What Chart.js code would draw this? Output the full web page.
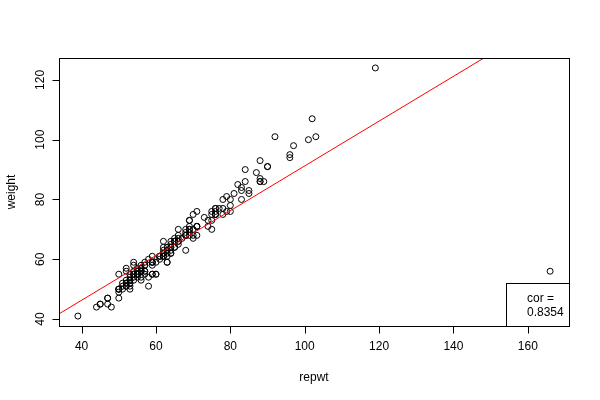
<!DOCTYPE html>
<html><head><meta charset="utf-8">
<script src="https://cdn.jsdelivr.net/npm/chart.js@4/dist/chart.umd.min.js"></script>
<style>html,body{margin:0;padding:0;background:#fff;}canvas{display:block;}</style>
</head><body>
<canvas id="c" width="600" height="400"></canvas>
<script>
// x values (axis titled "repwt")
const repwt = [77,58,53,68,59,76,76,69,71,65,70,166,51,64,52,65,92,62,76,61,119,61,65,66,54,50,63,58,39,101,
71,75,79,52,68,64,56,69,88,65,54,80,63,78,85,54,54,75,82,56,74,102,65,66,73,75,57,68,71,71,78,97,60,64,64,52,80,
62,66,55,56,50,50,63,69,69,61,55,53,60,56,59,62,53,57,57,70,56,84,69,88,56,103,50,52,55,63,47,45,62,53,52,57,64,
59,55,67,76,62,83,96,75,65,78,69,68,55,52,45,68,44,62,87,56,50,83,53,64,90,85,66,52,53,54,64,55,55,59,70,88,57,
47,47,48,54,69,57,51,54,53,59,56,59,63,66,96,53,76,61,62,71,66,81,68,80,63,70,56,60,58,76,50,88,89,59,51,62,74,
83,90,79,84];
// y values (axis titled "weight")
const weight = [77,51,54,70,59,76,77,73,71,64,75,56,52,64,57,66,101,62,75,61,124,61,66,70,59,50,61,60,41,100,
71,73,76,52,63,65,54,69,86,67,53,80,59,80,82,55,56,75,85,57,73,107,64,65,74,70,58,69,71,76,75,98,59,63,62,51,76,
61,66,54,57,50,55,64,70,70,60,56,52,55,56,61,66,53,59,56,68,56,86,71,87,57,101,50,52,55,63,47,45,63,51,51,55,64,
55,57,67,77,62,83,94,76,66,77,73,68,55,56,45,68,44,61,89,53,47,84,53,62,91,83,68,53,55,55,66,55,55,55,67,86,58,
47,45,44,58,68,56,50,54,52,58,58,59,62,66,95,50,75,61,64,68,67,82,68,78,59,70,56,55,54,75,49,93,86,59,51,61,71,
80,91,81,90];
const xTicks = [40, 60, 80, 100, 120, 140, 160];
const yTicks = [40, 60, 80, 100, 120];
const fitX = [30, 175];
const fitY = [38.8, 147.4];
const corText = ["cor =", "0.8354"];
const xTitle = "repwt";
const yTitle = "weight";

const FONT = '12px "Liberation Sans", Arial, Helvetica, sans-serif';

const pts = repwt.map((v, i) => ({x: v, y: weight[i]}));
const fitPts = fitX.map((v, i) => ({x: v, y: fitY[i]}));

const rAxes = {
  id: 'rAxes',
  afterDraw(chart) {
    const {ctx, chartArea: a, scales: {x, y}} = chart;
    ctx.save();
    ctx.strokeStyle = '#000';
    ctx.lineWidth = 1;
    ctx.strokeRect(a.left + 0.5, a.top + 0.5, a.right - a.left, a.bottom - a.top);
    ctx.fillStyle = '#000';
    ctx.font = FONT;
    ctx.beginPath();
    xTicks.forEach(v => {
      const px = Math.round(x.getPixelForValue(v)) + 0.5;
      ctx.moveTo(px, a.bottom + 0.5);
      ctx.lineTo(px, a.bottom + 7.5);
    });
    yTicks.forEach(v => {
      const py = Math.round(y.getPixelForValue(v)) + 0.5;
      ctx.moveTo(a.left + 0.5, py);
      ctx.lineTo(a.left - 6.5, py);
    });
    ctx.stroke();
    ctx.textAlign = 'center';
    ctx.textBaseline = 'alphabetic';
    xTicks.forEach(v => {
      ctx.fillText(String(v), x.getPixelForValue(v), a.bottom + 24);
    });
    yTicks.forEach(v => {
      ctx.save();
      ctx.translate(a.left - 15, y.getPixelForValue(v));
      ctx.rotate(-Math.PI / 2);
      ctx.fillText(String(v), 0, 0);
      ctx.restore();
    });
    ctx.fillText(xTitle, (a.left + a.right) / 2, a.bottom + 55);
    ctx.save();
    ctx.translate(15, (a.top + a.bottom) / 2);
    ctx.rotate(-Math.PI / 2);
    ctx.fillText(yTitle, 0, 0);
    ctx.restore();
    const bw = 63, bh = 43;
    ctx.fillStyle = '#fff';
    ctx.fillRect(a.right - bw, a.bottom - bh, bw, bh);
    ctx.strokeRect(a.right - bw + 0.5, a.bottom - bh + 0.5, bw, bh);
    ctx.fillStyle = '#000';
    ctx.textAlign = 'left';
    ctx.fillText(corText[0], a.right - bw + 21, a.bottom - 24);
    ctx.fillText(corText[1], a.right - bw + 21, a.bottom - 10);
    ctx.restore();
  }
};

new Chart(document.getElementById('c'), {
  type: 'scatter',
  data: {
    datasets: [
      {
        type: 'line',
        data: fitPts,
        borderColor: '#ff0000',
        borderWidth: 1,
        pointRadius: 0,
        fill: false,
        order: 0
      },
      {
        data: pts,
        pointStyle: 'circle',
        pointRadius: 3,
        borderWidth: 1,
        borderColor: '#000',
        backgroundColor: 'rgba(0,0,0,0)',
        order: 1
      }
    ]
  },
  options: {
    responsive: false,
    animation: false,
    devicePixelRatio: 1,
    events: [],
    layout: {padding: {left: 59, right: 31, top: 58, bottom: 74}},
    plugins: {legend: {display: false}, tooltip: {enabled: false}},
    scales: {
      x: {type: 'linear', min: 33.92, max: 171.08, display: false},
      y: {type: 'linear', min: 37.68, max: 127.32, display: false}
    }
  },
  plugins: [rAxes]
});
</script>
</body></html>
